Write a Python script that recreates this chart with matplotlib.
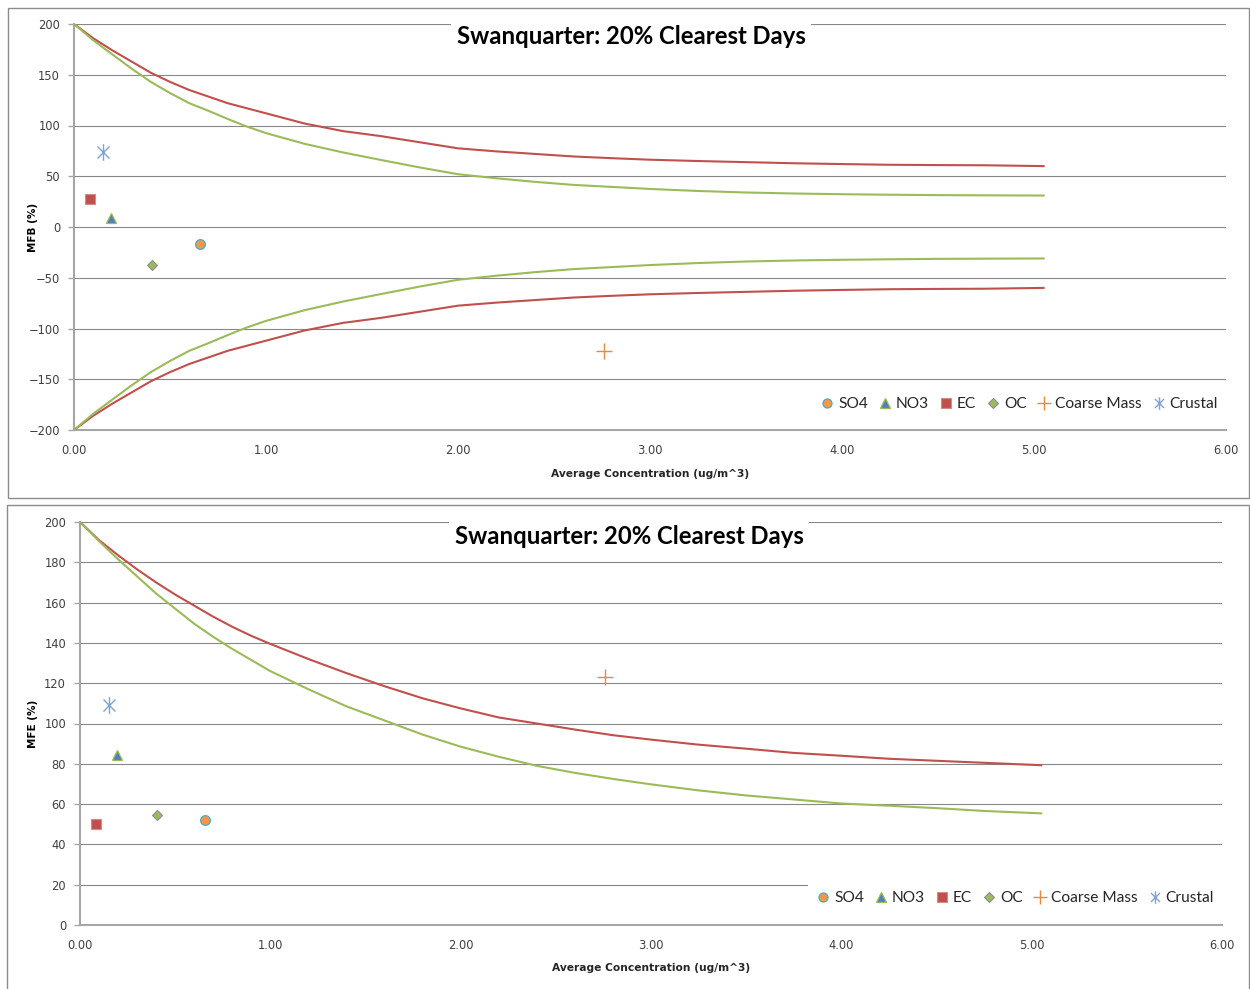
import matplotlib
matplotlib.use("Agg")
import matplotlib.pyplot as plt
from matplotlib.lines import Line2D
from matplotlib.patches import Rectangle
from matplotlib.path import Path
from matplotlib.ticker import MultipleLocator, FormatStrFormatter

# ---- data -------------------------------------------------------------
species = ["SO4", "NO3", "EC", "OC", "Coarse Mass", "Crustal"]
conc = [0.658, 0.192, 0.082, 0.405, 2.76, 0.152]          # ug/m^3
mfb = [-16.5, 9.0, 28.0, -37.0, -122.5, 74.0]              # %
mfe = [52.0, 84.5, 50.0, 54.5, 123.0, 109.0]               # %

curve_x = [0.0, 0.1, 0.2, 0.3, 0.4, 0.5, 0.6, 0.7, 0.8, 0.9, 1.0,
           1.2, 1.4, 1.6, 1.8, 2.0, 2.2, 2.4, 2.6, 2.8, 3.0,
           3.25, 3.5, 3.75, 4.0, 4.25, 4.5, 4.75, 5.05]

# bias criteria (red) and goal (green), upper and lower branches
mfb_crit_up = [200, 186, 174, 163, 152, 143, 135, 128.5, 122, 117, 112,
               102, 94.5, 89.5, 83.5, 77.5, 74.5, 72, 69.5, 67.8, 66.3,
               65, 63.9, 62.8, 62, 61.3, 61, 60.8, 60]
mfb_crit_lo = [-200, -186, -174, -163, -152, -143, -135, -128.5, -122, -117, -112,
               -102, -94.5, -89.5, -83.5, -77.5, -74.5, -72, -69.5, -67.8, -66.3,
               -65, -63.9, -62.8, -62, -61.3, -61, -60.8, -60]
mfb_goal_up = [200, 184, 170, 156, 143, 132, 122, 114.5, 106.5, 99, 92.5,
               82, 73.5, 66, 58.7, 52, 48, 44.5, 41.5, 39.5, 37.5,
               35.5, 34, 33, 32.3, 31.8, 31.4, 31.2, 31]
mfb_goal_lo = [-200, -184, -170, -156, -143, -132, -122, -114.5, -106.5, -99, -92.5,
               -82, -73.5, -66, -58.7, -52, -48, -44.5, -41.5, -39.5, -37.5,
               -35.5, -34, -33, -32.3, -31.8, -31.4, -31.2, -31]

# error criteria (red) and goal (green)
mfe_crit = [200, 191, 183.5, 176.5, 170, 164, 158.5, 153, 148, 143.5, 139.5,
            132, 125, 118.5, 112.5, 107.5, 103, 100, 97, 94.2, 92,
            89.5, 87.5, 85.4, 84, 82.5, 81.5, 80.5, 79.3]
mfe_goal = [200, 190.5, 181.5, 173, 164.5, 157, 149.5, 143, 137, 131.5, 126,
            117, 108.5, 101.5, 94.5, 88.5, 83.5, 79, 75.5, 72.5, 69.8,
            66.8, 64.3, 62.3, 60.3, 59.2, 58, 56.6, 55.4]

title_text = "Swanquarter: 20% Clearest Days"
xlabel_text = "Average Concentration (ug/m^3)"

# ---- styling ----------------------------------------------------------
RED = "#C0504D"
GREEN = "#9BBB59"
GRID = "#878787"
AXIS = "#A6A6A6"
TICKTXT = "#404040"

star = Path([(0, -1), (0, 1), (-0.72, -0.72), (0.72, 0.72), (-0.72, 0.72), (0.72, -0.72)],
            [Path.MOVETO, Path.LINETO, Path.MOVETO, Path.LINETO, Path.MOVETO, Path.LINETO])

marker_styles = {
    "SO4": dict(marker="o", ms=7, mfc="#F79646", mec="#4BACC6", mew=0.9),
    "NO3": dict(marker="^", ms=7.5, mfc="#4F81BD", mec="#9BBB59", mew=0.9),
    "EC": dict(marker="s", ms=7, mfc="#C0504D", mec="#D58A88", mew=0.8),
    "OC": dict(marker="D", ms=5, mfc="#9BBB59", mec="#8C8C9C", mew=0.8),
    "Coarse Mass": dict(marker="+", ms=12, mfc="none", mec="#E9883F", mew=1.0),
    "Crustal": dict(marker=star, ms=12, mfc="none", mec="#7FA3D6", mew=1.0),
}
legend_sizes = {"SO4": 6.5, "NO3": 6.5, "EC": 6.5, "OC": 4.8,
                "Coarse Mass": 10, "Crustal": 9}

fig = plt.figure(figsize=(12.5, 9.89), dpi=100)
W, H = 1250.0, 989.0

# chart-area frames
fig.patches.append(Rectangle((8 / W, 1 - 498 / H), (1249 - 8) / W, (498 - 8) / H,
                             transform=fig.transFigure, fill=False,
                             edgecolor="#8C8C8C", lw=1.0))
fig.patches.append(Rectangle((7 / W, 1 - 1000 / H), (1249 - 7) / W, (1000 - 505) / H,
                             transform=fig.transFigure, fill=False,
                             edgecolor="#8C8C8C", lw=1.0))


def make_axes(px_left, px_right, px_top, px_bottom):
    return fig.add_axes([px_left / W, 1 - px_bottom / H,
                         (px_right - px_left) / W, (px_bottom - px_top) / H])


def style_axes(ax, ymin, ymax, ystep):
    ax.set_xlim(0, 6)
    ax.set_ylim(ymin, ymax)
    ax.xaxis.set_major_locator(MultipleLocator(1))
    ax.xaxis.set_major_formatter(FormatStrFormatter("%.2f"))
    ax.yaxis.set_major_locator(MultipleLocator(ystep))
    ax.yaxis.grid(True, color=GRID, lw=0.8)
    ax.set_axisbelow(True)
    for s in ("top", "right"):
        ax.spines[s].set_visible(False)
    for s in ("left", "bottom"):
        ax.spines[s].set_color(AXIS)
        ax.spines[s].set_linewidth(1.5)
    ax.tick_params(axis="y", length=4, width=1.0, color=AXIS, pad=6,
                   labelsize=8.3, labelcolor=TICKTXT)
    ax.tick_params(axis="x", length=0, pad=10, labelsize=8.3, labelcolor=TICKTXT)
    for lbl in ax.get_xticklabels() + ax.get_yticklabels():
        lbl.set_family("DejaVu Sans")


def draw_points(ax, values):
    handles = []
    for name, x, y in zip(species, conc, values):
        st = marker_styles[name]
        ax.plot([x], [y], linestyle="none", zorder=5, **st)
        hst = dict(st)
        hst["ms"] = legend_sizes[name]
        handles.append(Line2D([], [], linestyle="none", label=name, **hst))
    return handles


def add_title(ax, xf, yf):
    ax.text(xf, yf, title_text, transform=ax.transAxes, ha="center", va="center",
            fontsize=17.2, fontweight="bold", family="Lato", color="black",
            bbox=dict(boxstyle="square,pad=0.25", fc="white", ec="none"), zorder=6)


def add_legend(ax, handles, x, y):
    leg = ax.legend(handles=handles, loc="center right", bbox_to_anchor=(x, y),
                    ncol=6, frameon=True, fancybox=False, framealpha=1,
                    facecolor="white", edgecolor="none", borderpad=0.6,
                    handlelength=0.8, handletextpad=0.3, columnspacing=0.7,
                    prop=dict(family="Lato", size=11.2), labelcolor="#262626")
    leg.set_zorder(7)


# ---- top panel: mean fractional bias ----------------------------------
ax1 = make_axes(74, 1226, 24, 430)
style_axes(ax1, -200, 200, 50)
ax1.plot(curve_x, mfb_crit_up, color=RED, lw=1.5, zorder=3)
ax1.plot(curve_x, mfb_crit_lo, color=RED, lw=1.5, zorder=3)
ax1.plot(curve_x, mfb_goal_up, color=GREEN, lw=1.5, zorder=3)
ax1.plot(curve_x, mfb_goal_lo, color=GREEN, lw=1.5, zorder=3)
h1 = draw_points(ax1, mfb)
add_title(ax1, 0.4835, 0.968)
add_legend(ax1, h1, 1.008, 0.064)
ax1.set_ylabel("MFB (%)", fontsize=7.5, fontweight="bold", family="DejaVu Sans")
ax1.yaxis.set_label_coords(-0.031, 0.5)
ax1.set_xlabel(xlabel_text, fontsize=7.7, fontweight="bold", family="DejaVu Sans",
               color="#262626")
ax1.xaxis.set_label_coords(0.5, -0.095)

# ---- bottom panel: mean fractional error --------------------------------
ax2 = make_axes(80, 1222, 522, 925)
style_axes(ax2, 0, 200, 20)
ax2.plot(curve_x, mfe_crit, color=RED, lw=1.5, zorder=3)
ax2.plot(curve_x, mfe_goal, color=GREEN, lw=1.5, zorder=3)
h2 = draw_points(ax2, mfe)
add_title(ax2, 0.4807, 0.963)
add_legend(ax2, h2, 1.008, 0.067)
ax2.set_ylabel("MFE (%)", fontsize=7.5, fontweight="bold", family="DejaVu Sans")
ax2.yaxis.set_label_coords(-0.0368, 0.5)
ax2.set_xlabel(xlabel_text, fontsize=7.7, fontweight="bold", family="DejaVu Sans",
               color="#262626")
ax2.xaxis.set_label_coords(0.5, -0.094)

fig.savefig("out.png", dpi=100, facecolor="white")
